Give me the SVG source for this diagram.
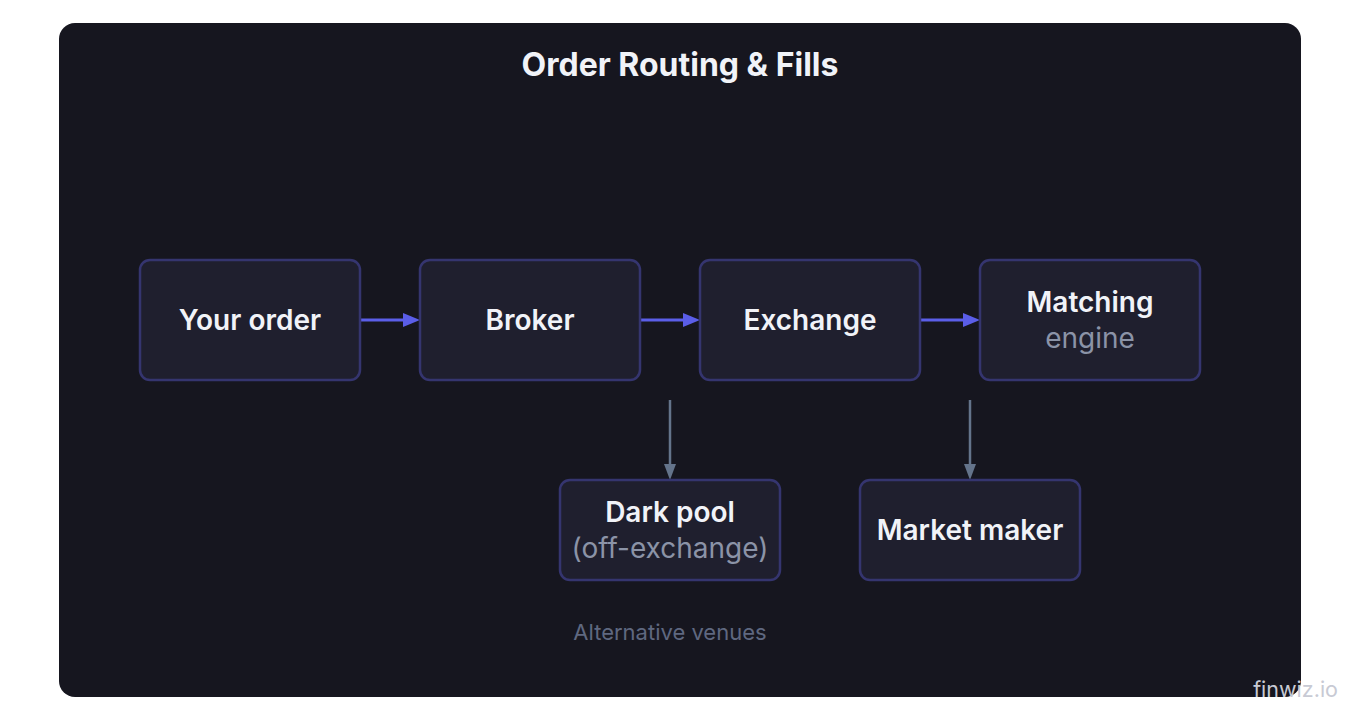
<svg xmlns="http://www.w3.org/2000/svg" width="1360" height="720" viewBox="0 0 1360 720">
<defs>
<style>
.node rect{fill:#1f1f2e;stroke:#35356f;stroke-width:2.5}
.lbl{font-family:Inter,"Noto Sans",sans-serif;font-size:28px;font-weight:600;fill:#f1f3f8;text-anchor:middle}
.sub{font-family:Inter,"Noto Sans",sans-serif;font-size:28px;font-weight:400;fill:#8b93a7;text-anchor:middle}
.flow{stroke:#5b5ee8;stroke-width:3;fill:none}
.alt{stroke:#64748b;stroke-width:2.5;fill:none}
</style>
</defs>
<rect x="0" y="0" width="1360" height="720" fill="#ffffff"/>
<rect x="59" y="23" width="1242" height="674" rx="16" fill="#16161f"/>
<text x="680" y="76" font-family="Inter,'Noto Sans',sans-serif" font-size="32" font-weight="700" fill="#f1f3f8" text-anchor="middle">Order Routing &amp; Fills</text>
<g id="connectors">
<path class="flow" d="M361,320 H406"/>
<path class="flow" d="M641,320 H686"/>
<path class="flow" d="M921,320 H966"/>
<path class="alt" d="M670,400 V468"/>
<path class="alt" d="M970,400 V468"/>
<path d="M403,313 L420,320 L403,327 z" fill="#5b5ee8"/>
<path d="M683,313 L700,320 L683,327 z" fill="#5b5ee8"/>
<path d="M963,313 L980,320 L963,327 z" fill="#5b5ee8"/>
<path d="M664,464 L670,480 L676,464 z" fill="#64748b"/>
<path d="M964,464 L970,480 L976,464 z" fill="#64748b"/>
</g>
<g id="your-order" class="node"><rect x="140" y="260" width="220" height="120" rx="10"/><text class="lbl" x="250" y="330">Your order</text></g>
<g id="broker" class="node"><rect x="420" y="260" width="220" height="120" rx="10"/><text class="lbl" x="530" y="330">Broker</text></g>
<g id="exchange" class="node"><rect x="700" y="260" width="220" height="120" rx="10"/><text class="lbl" x="810" y="330">Exchange</text></g>
<g id="matching-engine" class="node"><rect x="980" y="260" width="220" height="120" rx="10"/><text class="lbl" x="1090" y="312">Matching</text><text class="sub" x="1090" y="348">engine</text></g>
<g id="dark-pool" class="node"><rect x="560" y="480" width="220" height="100" rx="10"/><text class="lbl" x="670" y="522">Dark pool</text><text class="sub" x="670" y="558">(off-exchange)</text></g>
<g id="market-maker" class="node"><rect x="860" y="480" width="220" height="100" rx="10"/><text class="lbl" x="970" y="540">Market maker</text></g>
<text x="670" y="640" font-family="Inter,'Noto Sans',sans-serif" font-size="22" fill="#5f6880" text-anchor="middle">Alternative venues</text>
<text x="1338" y="697" font-family="Inter,'Noto Sans',sans-serif" font-size="21.5" fill="#c8cad4" text-anchor="end">finwiz.io</text>
</svg>
